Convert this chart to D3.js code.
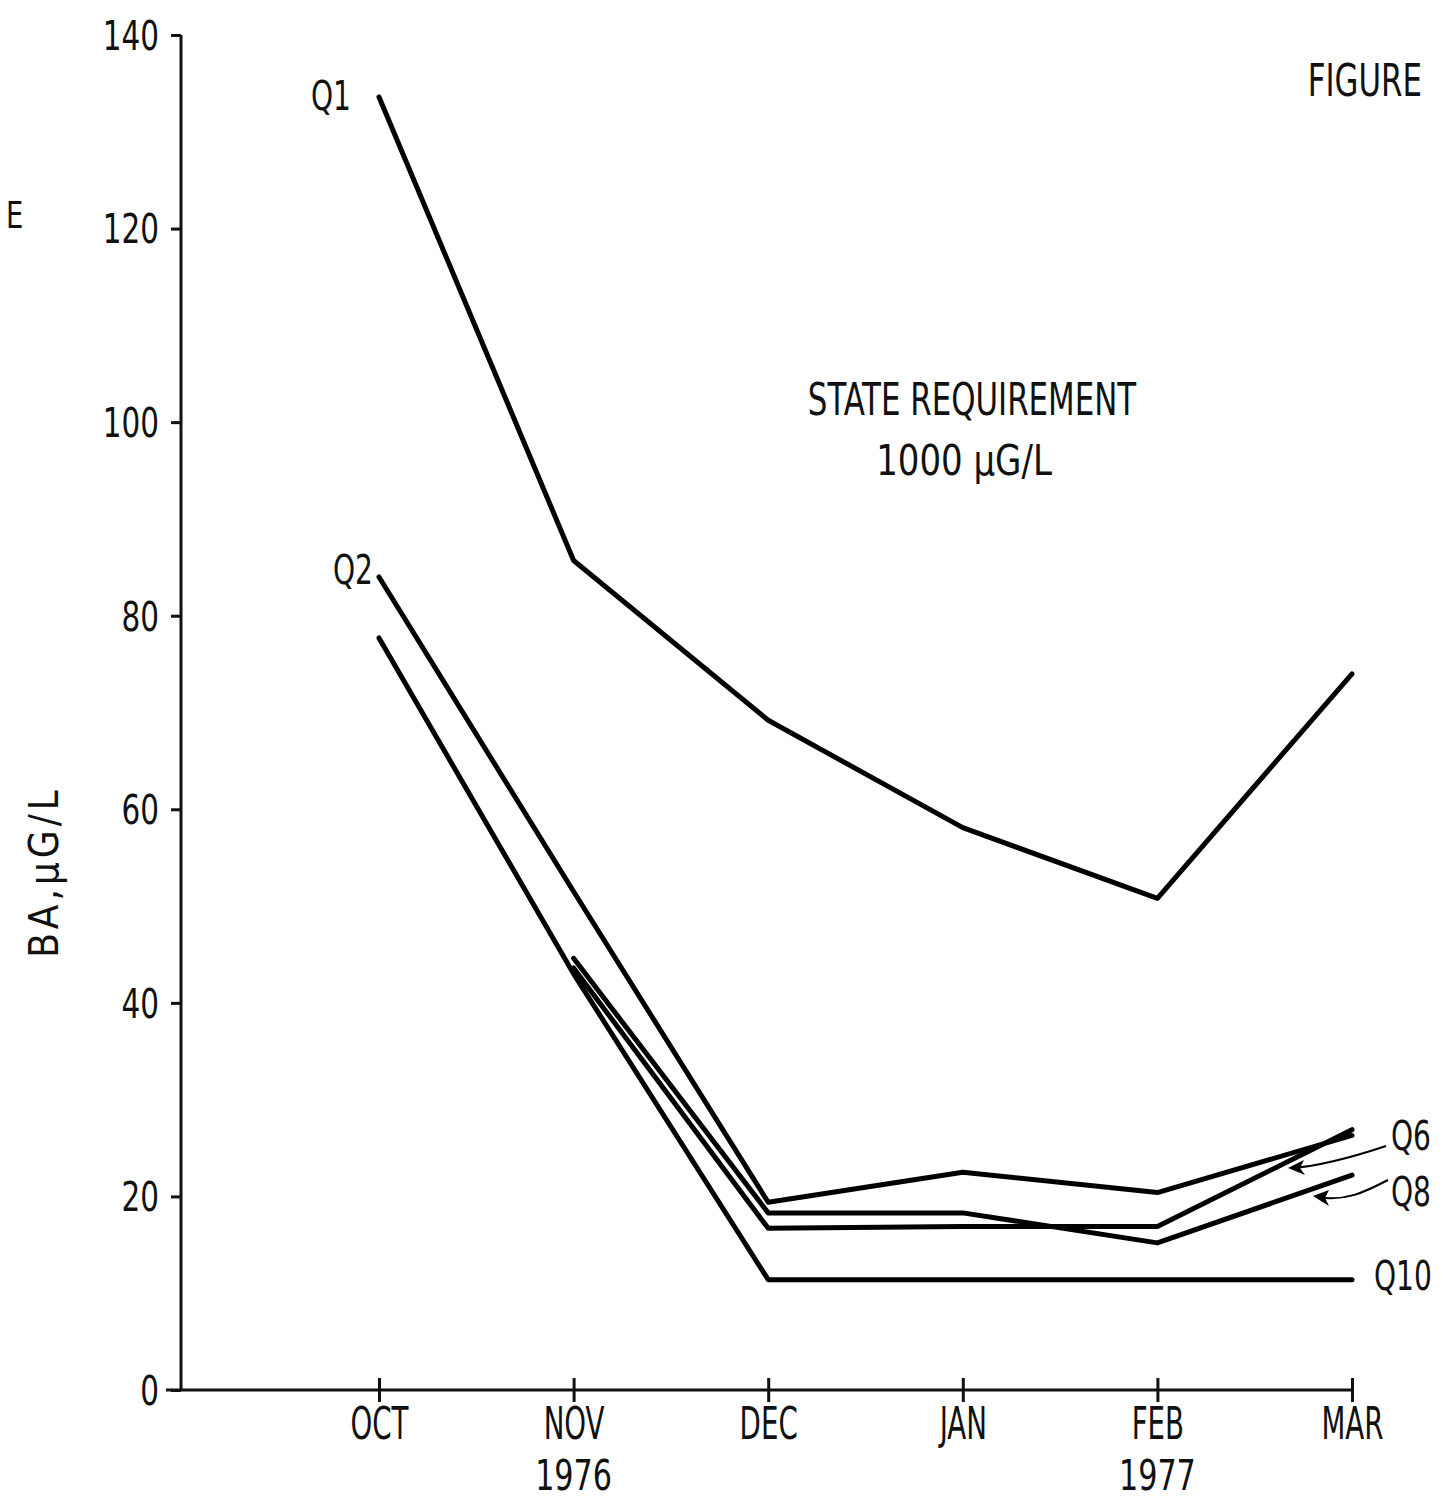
<!DOCTYPE html>
<meta charset="utf-8">
<head>
	<title>BA, ug/L by month</title>
</head>
<style>
body{
	margin: 0;
	background: #fff;
}
svg{
	display: block;
}
text{
	font-family: "Liberation Sans Narrow", "DejaVu Sans Condensed", "Roboto Condensed", "Liberation Sans", sans-serif;
	font-stretch: condensed;
	fill: #111;
}
.axis path, .axis line{
	stroke: #111;
	stroke-width: 3;
}
.series{
	fill: none;
	stroke: #000;
	stroke-width: 5;
	stroke-linejoin: round;
	stroke-linecap: round;
}
.arrow{
	fill: none;
	stroke: #000;
	stroke-width: 2;
}
</style>
<body>
<svg id="chart" width="1443" height="1500"></svg>

<script src="https://cdnjs.cloudflare.com/ajax/libs/d3/7.8.5/d3.min.js"></script>
<script>

// data
var months = ['OCT', 'NOV', 'DEC', 'JAN', 'FEB', 'MAR'];
var years = ['', '1976', '', '', '1977', ''];
var yTicks = [0, 20, 40, 60, 80, 100, 120, 140];

var q1  = [133.6, 85.7, 69.2, 58.1, 50.8, 74.0];
var q2  = [84.0, 51.5, 19.4, 22.5, 20.4, 26.3];
var q6  = [null, 43.6, 16.7, 16.9, 16.9, 26.9];
var q8  = [null, 44.6, 18.3, 18.3, 15.2, 22.2];
var q10 = [77.7, 43.0, 11.4, 11.4, 11.4, 11.4];

var svg = d3.select('#chart');

// the typed labels are narrow: scale text horizontally round its anchor
function squeeze(sel, f){
	sel.each(function(){
		var t = d3.select(this);
		var ax = +t.attr('x') || 0;
		t.attr('transform', 'translate(' + ax + ',0) scale(' + f + ',1) translate(' + (-ax) + ',0)');
	});
}

var x = d3.scalePoint()
	.domain(months)
	.range([379, 1352]);

var y = d3.scaleLinear()
	.domain([0, 140])
	.range([1390, 35]);

// y axis
var yAxis = svg.append('g')
	.attr('class', 'axis')
	.attr('transform', 'translate(181,0)')
	.call(d3.axisLeft(y).tickValues(yTicks).tickSize(10).tickSizeOuter(0).tickPadding(12));
yAxis.selectAll('text')
	.style('font-size', '40px')
	.attr('dy', '0.36em')
	.call(squeeze, 0.82);
yAxis.select('.domain').attr('d', 'M0,' + y(140) + 'V' + y(0));

// x axis
var xAxis = svg.append('g')
	.attr('class', 'axis')
	.attr('transform', 'translate(0,' + y(0) + ')')
	.call(d3.axisBottom(x).tickSize(12).tickSizeOuter(0).tickPadding(6));
xAxis.select('.domain').attr('d', 'M166,0H' + x('MAR'));
xAxis.selectAll('.tick line').attr('y1', -12);
xAxis.selectAll('.tick text')
	.style('font-size', '44px')
	.attr('dy', '0.71em')
	.call(squeeze, 0.7);

// years under the month labels
svg.append('g').selectAll('text')
	.data(months.filter(function(d, i){ return years[i]; }))
	.enter()
	.append('text')
	.attr('x', function(d){ return x(d); })
	.attr('y', 1490)
	.attr('text-anchor', 'middle')
	.style('font-size', '42px')
	.text(function(d){ return years[months.indexOf(d)]; })
	.call(squeeze, 0.8);

// lines
var line = d3.line()
	.defined(function(d){ return d != null; })
	.x(function(d, i){ return x(months[i]); })
	.y(function(d){ return y(d); });

var series = [q1, q2, q6, q8, q10];
svg.append('g').selectAll('path')
	.data(series)
	.enter()
	.append('path')
	.attr('class', 'series')
	.attr('d', line);

// series labels
var labels = [
	{t: 'Q1', x: 311, y: 110},
	{t: 'Q2', x: 333, y: 584},
	{t: 'Q6', x: 1391, y: 1150},
	{t: 'Q8', x: 1391, y: 1206},
	{t: 'Q10', x: 1374, y: 1290}
];
svg.append('g').selectAll('text')
	.data(labels)
	.enter()
	.append('text')
	.attr('x', function(d){ return d.x; })
	.attr('y', function(d){ return d.y; })
	.style('font-size', '40px')
	.text(function(d){ return d.t; })
	.call(squeeze, 0.78);

// little pointer arrows for Q6 and Q8
svg.append('path')
	.attr('class', 'arrow')
	.attr('d', 'M1386,1146 C1350,1158 1320,1166 1292,1168');
svg.append('path')
	.attr('d', 'M1288,1168 L1304,1160 L1300,1168 L1305,1175 Z')
	.attr('fill', '#000');
svg.append('path')
	.attr('class', 'arrow')
	.attr('d', 'M1388,1180 C1365,1192 1345,1202 1317,1197');
svg.append('path')
	.attr('d', 'M1313,1196 L1329,1190 L1325,1198 L1329,1206 Z')
	.attr('fill', '#000');

// annotation texts
svg.append('text')
	.attr('x', 972).attr('y', 415)
	.attr('text-anchor', 'middle')
	.style('font-size', '44px')
	.text('STATE REQUIREMENT')
	.call(squeeze, 0.78);
svg.append('text')
	.attr('x', 964).attr('y', 475)
	.attr('text-anchor', 'middle')
	.style('font-size', '42px')
	.text('1000 \u03bcG/L')
	.call(squeeze, 0.9);

svg.append('text')
	.attr('x', 1422).attr('y', 96)
	.attr('text-anchor', 'end')
	.style('font-size', '44px')
	.text('FIGURE')
	.call(squeeze, 0.78);

svg.append('text')
	.attr('x', 6).attr('y', 228)
	.style('font-size', '38px')
	.text('E')
	.call(squeeze, 0.8);

svg.append('text')
	.attr('transform', 'translate(58,872) rotate(-90)')
	.attr('text-anchor', 'middle')
	.style('font-size', '40px')
	.style('letter-spacing', '4px')
	.text('BA,\u03bcG/L');

</script>
</body>
</html>
